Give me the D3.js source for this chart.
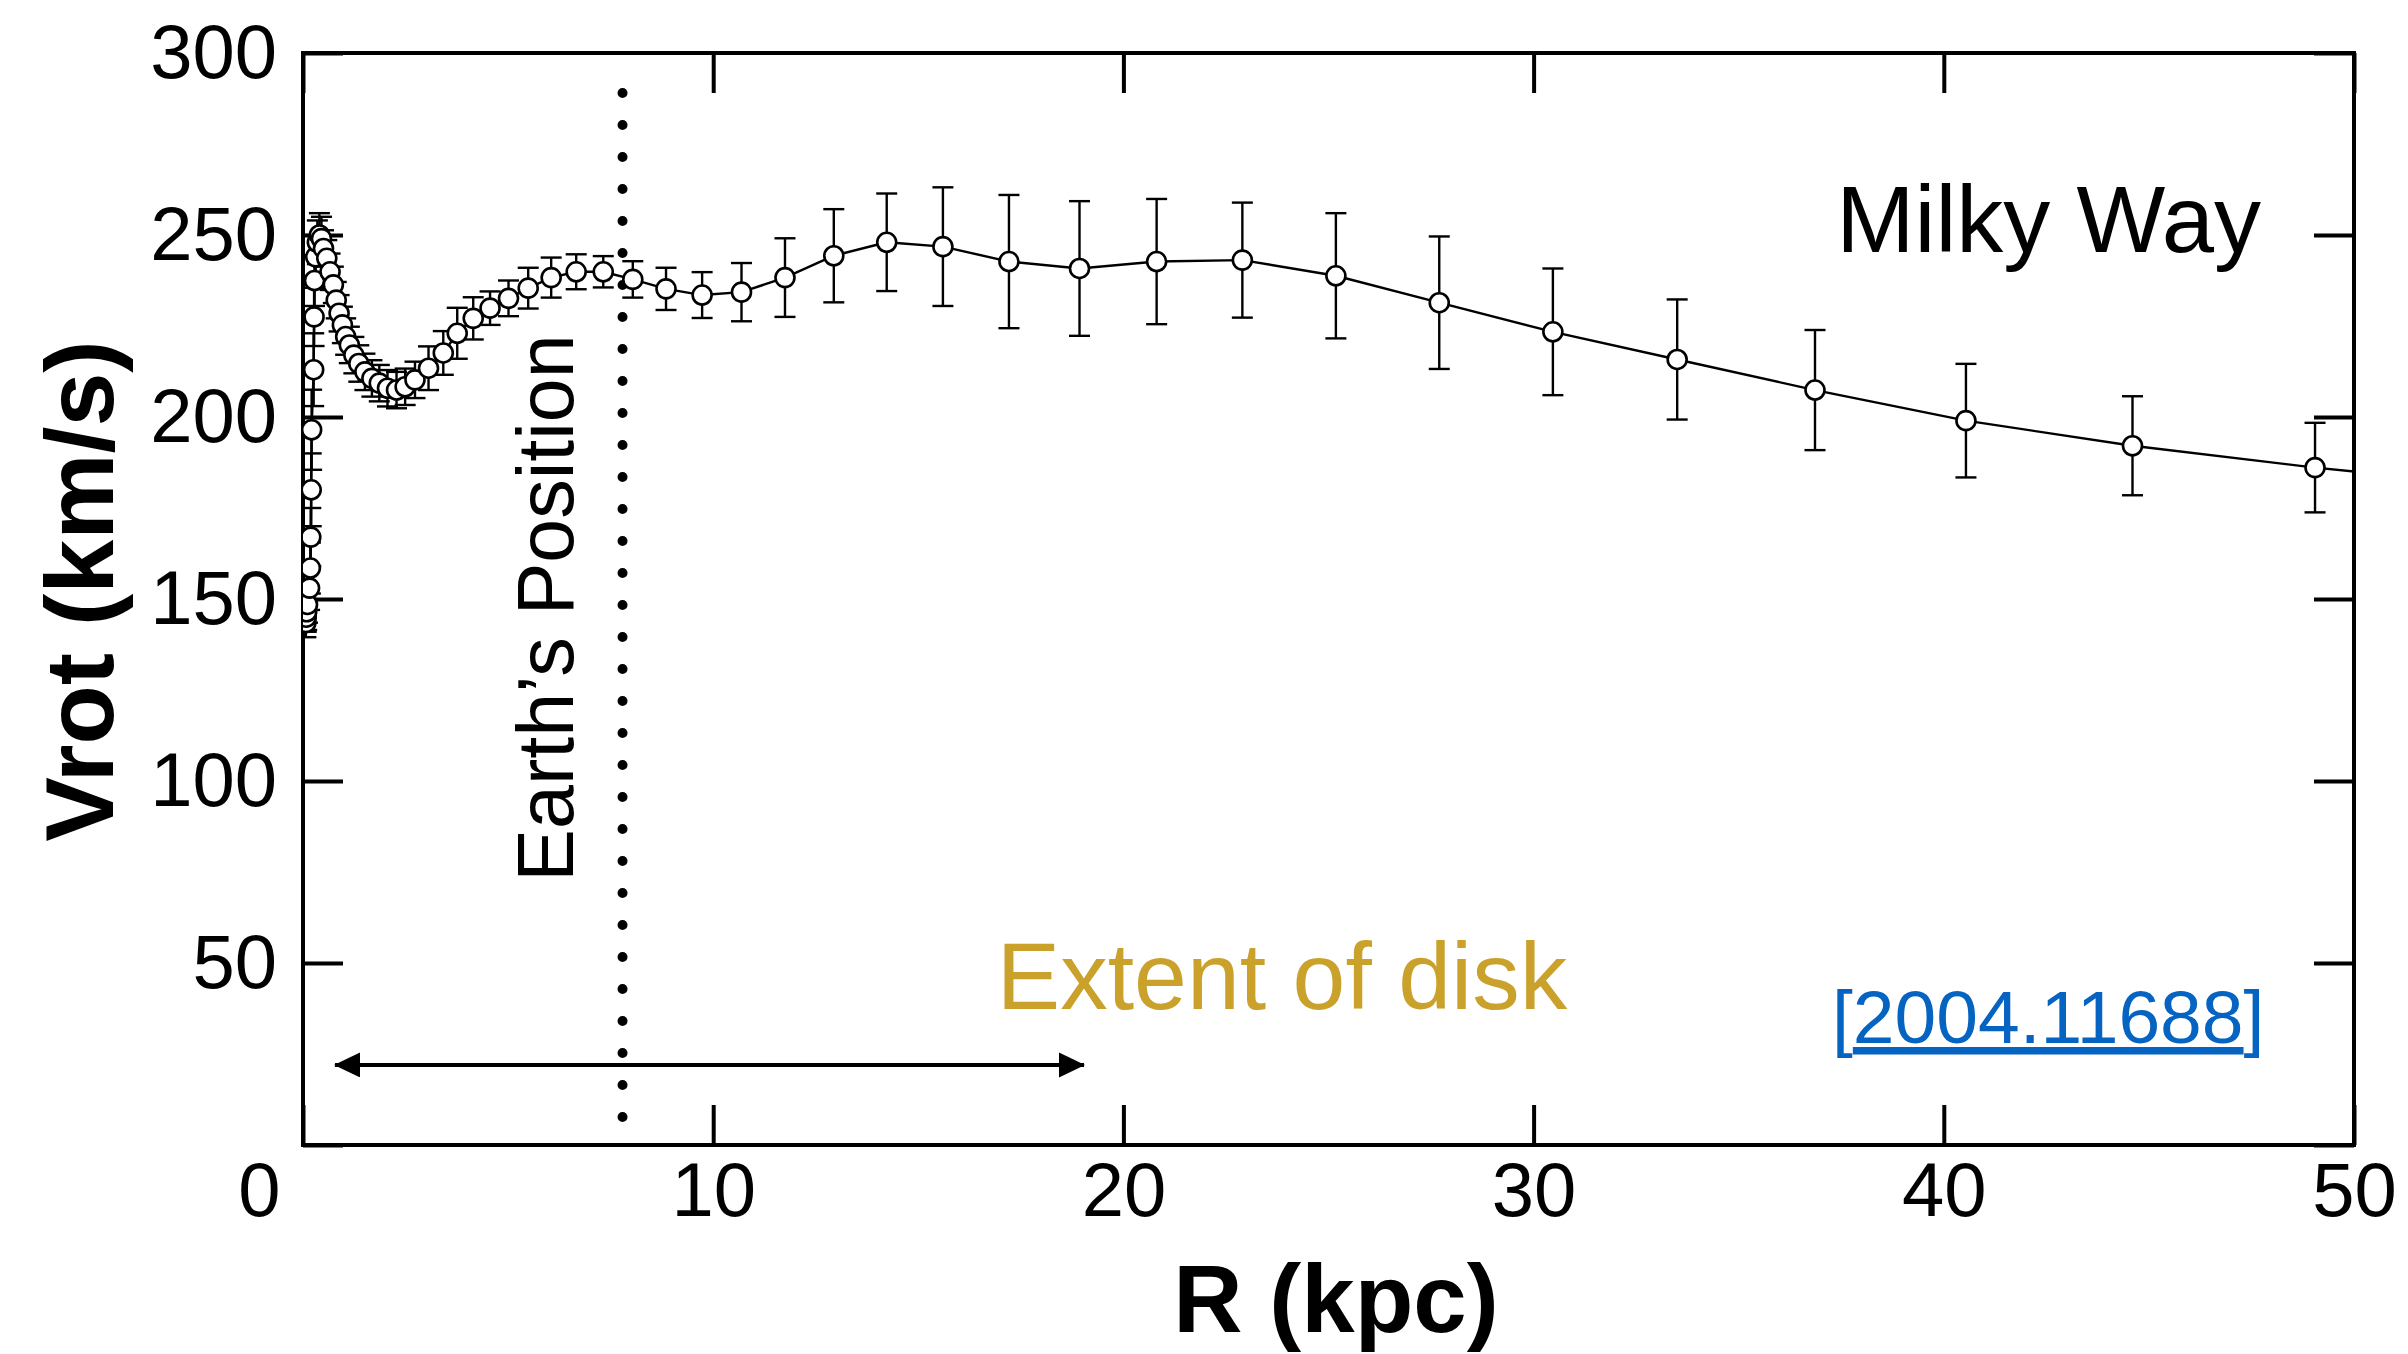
<!DOCTYPE html>
<html>
<head>
<meta charset="utf-8">
<script src="https://cdn.jsdelivr.net/npm/d3@7"></script>
<style>
body { margin: 0; background: #fff; }
text { font-family: "Liberation Sans", Arial, Helvetica, sans-serif; }
</style>
</head>
<body>
<script>
// rotation curve (R in kpc, Vrot and error in km/s)
var radius = [0.07, 0.08, 0.09, 0.11, 0.16, 0.18, 0.19, 0.20, 0.21, 0.26, 0.27, 0.28,
    0.31, 0.35, 0.40, 0.45, 0.50, 0.58, 0.66, 0.74, 0.81, 0.88, 0.96, 1.04, 1.13, 1.24,
    1.36, 1.51, 1.68, 1.86, 2.06, 2.28, 2.49, 2.73, 3.06, 3.42, 3.76, 4.15, 4.56, 5.01,
    5.49, 6.05, 6.66, 7.32, 8.04, 8.85, 9.73, 10.69, 11.75, 12.94, 14.23, 15.6, 17.21,
    18.93, 20.81, 22.90, 25.18, 27.70, 30.47, 33.50, 36.86, 40.54, 44.6, 49.05, 53.8];
var vrot = [143.5, 145, 146.5, 148.5, 153, 158.5, 167, 180, 196.5, 213, 227.5, 237.5,
    244, 248, 250, 249, 246.3, 243.6, 239.9, 236.3, 232.1, 228.5, 225.3, 222.1, 219.8, 217.0,
    214.7, 212.4, 210.6, 209.3, 207.9, 207.4, 208.3, 210.2, 213.4, 217.6, 223.0, 227.1, 229.9, 232.6,
    235.4, 238.3, 239.9, 239.9, 237.8, 235.2, 233.5, 234.3, 238.3, 244.3, 248.0, 246.8, 242.7,
    240.8, 242.7, 243.1, 238.8, 231.4, 223.4, 215.8, 207.4, 199.0, 192.1, 186.1, 180.8];
var verr = [4, 4, 5, 5, 6, 7, 8, 10, 11, 10, 8, 7,
    6, 6, 6, 6, 5, 5, 5, 5, 5, 5, 5, 5, 5, 5,
    5, 5, 5, 5, 5, 5, 5, 5, 6, 6, 7, 5.8, 4.6, 4.9,
    5.6, 5.5, 4.8, 4.3, 5, 5.8, 6.3, 8, 10.8, 12.8, 13.4, 16.3, 18.3,
    18.5, 17.2, 15.8, 17.2, 18.2, 17.4, 16.5, 16.5, 15.6, 13.6, 12.3, 12];

var xTicks = [0, 10, 20, 30, 40, 50];
var yTicks = [0, 50, 100, 150, 200, 250, 300];

var earthR = 7.79;          // dotted line
var earthV = [7.7, 290];
var disk = [0.78, 19.04];   // arrow extent
var diskV = 22;

var W = 2408, H = 1354;
var margin = { top: 53, right: 54, bottom: 209, left: 303 },
    width = W - margin.left - margin.right,
    height = H - margin.top - margin.bottom;

var points = radius.map(function (r, i) { return { r: r, v: vrot[i], e: verr[i] }; });

var svg = d3.select("body").append("svg")
    .attr("width", W)
    .attr("height", H)
    .style("background", "#fff");

var defs = svg.append("defs");
defs.append("clipPath")
    .attr("id", "clip")
    .append("rect")
    .attr("width", width)
    .attr("height", height);

defs.append("marker")
    .attr("id", "head")
    .attr("markerUnits", "userSpaceOnUse")
    .attr("markerWidth", 28)
    .attr("markerHeight", 26)
    .attr("refX", 25)
    .attr("refY", 12.5)
    .attr("orient", "auto-start-reverse")
    .append("path")
    .attr("d", "M0,0L26,12.5L0,25Z")
    .attr("fill", "#000");

var g = svg.append("g")
    .attr("transform", "translate(" + margin.left + "," + margin.top + ")");

var x = d3.scaleLinear().domain([0, 50]).range([0, width]);
var y = d3.scaleLinear().domain([0, 300]).range([height, 0]);

var fontStack = '"Liberation Sans", Arial, Helvetica, sans-serif';

function styleAxis(sel) {
    sel.select(".domain").remove();
    sel.selectAll(".tick line").attr("stroke", "#000").attr("stroke-width", 4);
    sel.attr("font-size", 76).attr("font-family", fontStack);
    sel.selectAll(".tick text").attr("fill", "#000");
}

var xAxis = d3.axisBottom(x).tickValues(xTicks).tickSizeInner(-40).tickSizeOuter(0).tickPadding(17);
var yAxis = d3.axisLeft(y).tickValues(yTicks).tickSizeInner(-40).tickSizeOuter(0).tickPadding(26)
    .tickFormat(function (d) { return d === 0 ? "" : d; });

g.append("g")
    .attr("transform", "translate(0," + height + ")")
    .call(xAxis)
    .call(styleAxis)
    .selectAll(".tick text")
    .filter(function (d) { return d === 0; })
    .attr("x", -44);

g.append("g")
    .call(d3.axisTop(x).tickValues(xTicks).tickSizeInner(-40).tickSizeOuter(0).tickFormat(""))
    .call(styleAxis);

g.append("g").call(yAxis).call(styleAxis);

g.append("g")
    .attr("transform", "translate(" + width + ",0)")
    .call(d3.axisRight(y).tickValues(yTicks).tickSizeInner(-40).tickSizeOuter(0).tickFormat(""))
    .call(styleAxis);

// frame
g.append("rect")
    .attr("width", width)
    .attr("height", height)
    .attr("fill", "none")
    .attr("stroke", "#000")
    .attr("stroke-width", 4);

// Earth's position
g.append("line")
    .attr("x1", x(earthR)).attr("x2", x(earthR))
    .attr("y1", y(earthV[0])).attr("y2", y(earthV[1]))
    .attr("stroke", "#000")
    .attr("stroke-width", 10)
    .attr("stroke-linecap", "round")
    .attr("stroke-dasharray", "0 32");

// extent of disk arrow
g.append("line")
    .attr("x1", x(disk[0])).attr("x2", x(disk[1]))
    .attr("y1", y(diskV)).attr("y2", y(diskV))
    .attr("stroke", "#000")
    .attr("stroke-width", 4)
    .attr("marker-start", "url(#head)")
    .attr("marker-end", "url(#head)");

var data = g.append("g").attr("clip-path", "url(#clip)");

var line = d3.line()
    .x(function (d) { return x(d.r); })
    .y(function (d) { return y(d.v); });

data.append("path")
    .datum(points)
    .attr("d", line)
    .attr("fill", "none")
    .attr("stroke", "#000")
    .attr("stroke-width", 2.4);

var bars = data.append("g").selectAll("g")
    .data(points)
    .enter().append("g")
    .attr("stroke", "#000")
    .attr("stroke-width", 2.4);

bars.append("line")
    .attr("x1", function (d) { return x(d.r); })
    .attr("x2", function (d) { return x(d.r); })
    .attr("y1", function (d) { return y(d.v - d.e); })
    .attr("y2", function (d) { return y(d.v + d.e); });

bars.selectAll(".cap")
    .data(function (d) { return [[d.r, d.v - d.e], [d.r, d.v + d.e]]; })
    .enter().append("line")
    .attr("class", "cap")
    .attr("x1", function (d) { return x(d[0]) - 10.5; })
    .attr("x2", function (d) { return x(d[0]) + 10.5; })
    .attr("y1", function (d) { return y(d[1]); })
    .attr("y2", function (d) { return y(d[1]); });

data.append("g").selectAll("circle")
    .data(points)
    .enter().append("circle")
    .attr("cx", function (d) { return x(d.r); })
    .attr("cy", function (d) { return y(d.v); })
    .attr("r", 9.5)
    .attr("fill", "#fff")
    .attr("stroke", "#000")
    .attr("stroke-width", 2.6);

// annotations
svg.append("text")
    .attr("transform", "translate(113,591) rotate(-90)")
    .attr("text-anchor", "middle")
    .attr("font-weight", "bold")
    .attr("font-size", 97)
    .text("Vrot (km/s)");

svg.append("text")
    .attr("x", 1336)
    .attr("y", 1332)
    .attr("text-anchor", "middle")
    .attr("font-weight", "bold")
    .attr("font-size", 96)
    .text("R (kpc)");

svg.append("text")
    .attr("x", 2261)
    .attr("y", 252)
    .attr("text-anchor", "end")
    .attr("font-size", 94)
    .text("Milky Way");

svg.append("text")
    .attr("x", 1282)
    .attr("y", 1009)
    .attr("text-anchor", "middle")
    .attr("font-size", 95)
    .attr("fill", "#C9A12B")
    .text("Extent of disk");

svg.append("text")
    .attr("transform", "translate(573,608) rotate(-90)")
    .attr("text-anchor", "middle")
    .attr("font-size", 79)
    .text("Earth\u2019s Position");

var ref = svg.append("text")
    .attr("x", 1832)
    .attr("y", 1043)
    .attr("font-size", 75)
    .attr("fill", "#0563C1");
ref.append("tspan").text("[");
ref.append("tspan").attr("text-decoration", "underline").text("2004.11688");
ref.append("tspan").text("]");
</script>
</body>
</html>
